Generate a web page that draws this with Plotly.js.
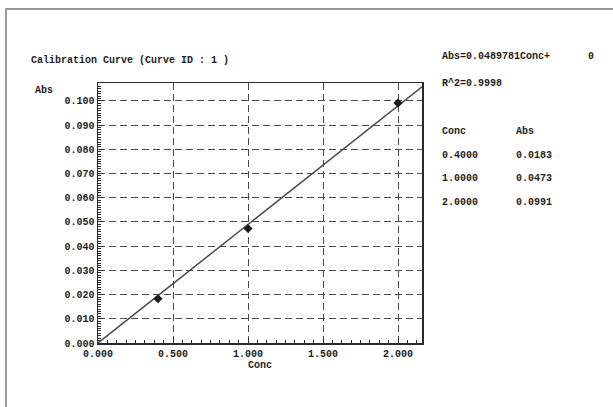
<!DOCTYPE html>
<html>
<head>
<meta charset="utf-8">
<script src="https://cdn.plot.ly/plotly-3.0.1.min.js"></script>
<style>
  html, body { margin: 0; padding: 0; background: #ffffff; }
  #chart { width: 613px; height: 407px; }
  #frame { position: absolute; left: 5px; top: 8px; width: 700px; height: 500px;
           border-left: 2px solid #9a9a9a; border-top: 2px solid #9a9a9a; pointer-events: none; }
</style>
</head>
<body>
<div id="chart"></div>
<div id="frame"></div>
<script>
// ---- data ----
const concVals = [0.4, 1.0, 2.0];
const absVals = [0.0183, 0.0473, 0.0991];
const slope = 0.0489781;
const intercept = 0;
const r2 = 0.9998;
const xTickVals = [0, 0.5, 1.0, 1.5, 2.0];
const yTickVals = [0, 0.01, 0.02, 0.03, 0.04, 0.05, 0.06, 0.07, 0.08, 0.09, 0.10];

const xRange = [0, 2.16];
const yRange = [0, 0.1074];

const FONT = "Liberation Mono, DejaVu Sans Mono, monospace";
const TXT = "#1e1e1e";

// fit line computed from the regression over the axis range
const fitX = [xRange[0], xRange[1]];
const fitY = fitX.map(x => slope * x + intercept);

const traces = [
  { x: fitX, y: fitY, mode: "lines", line: { color: "#4a4a4a", width: 1.5 }, hoverinfo: "skip", showlegend: false },
  { x: concVals, y: absVals, mode: "markers",
    marker: { symbol: "diamond", size: 7, color: "#1a1a1a" }, showlegend: false }
];

// side panel texts (pixel positions converted to paper coords)
const L = 98, R = 191, T = 83, B = 64, W = 613, H = 407;
const pw = W - L - R, ph = H - T - B;
const px = x => (x - L) / pw;
const py = y => 1 - (y - T) / ph;

const ann = [];
function addText(text, x, y, anchor) {
  ann.push({ text: text, xref: "paper", yref: "paper", x: px(x), y: py(y),
    xanchor: anchor || "left", yanchor: "middle", showarrow: false,
    font: { family: FONT, size: 10, color: TXT, weight: "bold" } });
}
addText("Calibration Curve (Curve ID : 1 )", 29, 60);
addText("Abs", 33, 90);
addText("Abs=" + slope + "Conc+", 440, 57);
addText(String(intercept), 596, 57, "right");
addText("R^2=" + r2.toFixed(4), 440, 83);
addText("Conc", 440, 131);
addText("Abs", 514, 131);
const rowY = [155, 178.5, 202];
concVals.forEach((c, i) => {
  addText(c.toFixed(4), 440, rowY[i]);
  addText(absVals[i].toFixed(4), 514, rowY[i]);
});

const axisCommon = {
  showline: true, linecolor: "#2a2a2a", linewidth: 1.5, mirror: true,
  showgrid: true, gridcolor: "#4a4a4a", gridwidth: 1, griddash: "7px,4px",
  zeroline: false, ticks: "inside", ticklen: 5, tickcolor: "#2a2a2a", tickwidth: 1,
  tickfont: { family: FONT, size: 10, color: TXT, weight: "bold" },
  tickformat: ".3f", tickmode: "array"
};

const layout = {
  width: W, height: H,
  margin: { l: L, r: R, t: T, b: B },
  paper_bgcolor: "rgba(0,0,0,0)", plot_bgcolor: "#ffffff",
  showlegend: false,
  xaxis: Object.assign({}, axisCommon, {
    range: xRange, tickvals: xTickVals, ticklabelstandoff: 0,
    minor: { dtick: 0.0625, ticks: "inside", ticklen: 3, tickcolor: "#2a2a2a", showgrid: false },
    title: { text: "Conc", standoff: 2, font: { family: FONT, size: 10, color: TXT, weight: "bold" } }
  }),
  yaxis: Object.assign({}, axisCommon, {
    range: yRange, tickvals: yTickVals, ticklabelstandoff: 0,
    minor: { dtick: 0.001, ticks: "inside", ticklen: 3, tickcolor: "#2a2a2a", showgrid: false }
  }),
  annotations: ann
};

Plotly.newPlot("chart", traces, layout, { displayModeBar: false, staticPlot: true });
</script>
</body>
</html>
